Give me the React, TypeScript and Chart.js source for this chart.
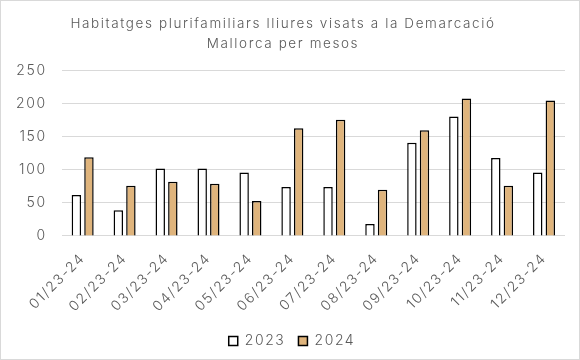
import React, { useEffect, useRef } from "react";
import { Chart, registerables } from "chart.js";

Chart.register(...registerables);

const categories = ["01/23-24", "02/23-24", "03/23-24", "04/23-24", "05/23-24", "06/23-24", "07/23-24", "08/23-24", "09/23-24", "10/23-24", "11/23-24", "12/23-24"];
const values2023 = [62, 39, 102, 102, 96, 74, 74, 18, 141, 181, 118, 96];
const values2024 = [119, 76, 82, 79, 53, 163, 176, 70, 160, 208, 76, 205];
const titleLines = ["Habitatges plurifamiliars lliures visats a la Demarcació", "Mallorca per mesos"];

const FONT = "Inter, sans-serif";
const GREY = "#595959";

const spacingPlugin = {
  id: "letterSpacing",
  beforeUpdate(chart: any) { (chart.ctx as any).letterSpacing = "1.6px"; },
  afterLayout(chart: any) {
    if (chart.legend) { chart.legend.left += 9; chart.legend.right += 9; }
  },
  beforeDraw(chart: any) { (chart.ctx as any).letterSpacing = "1.6px"; },
};

export default function App() {
  const ref = useRef<HTMLCanvasElement | null>(null);
  useEffect(() => {
    document.body.style.margin = "0";
    const chart = new Chart(ref.current as HTMLCanvasElement, {
      type: "bar",
      data: {
        labels: categories,
        datasets: [
          { label: "2023", data: values2023, backgroundColor: "#ffffff", borderColor: "#000000", borderWidth: 1.5, categoryPercentage: 0.6, barPercentage: 0.75 },
          { label: "2024", data: values2024, backgroundColor: "#DFB47C", borderColor: "#000000", borderWidth: 1.5, categoryPercentage: 0.6, barPercentage: 0.75 },
        ],
      },
      plugins: [spacingPlugin],
      options: {
        animation: false,
        responsive: false,
        layout: { padding: { left: 0, right: 14, top: 6, bottom: 1 } },
        plugins: {
          title: { display: true, text: titleLines, color: GREY, font: { family: FONT, size: 13.5, weight: 300, lineHeight: 1.55 }, padding: { top: 6, bottom: 16 }, },
          legend: {
            position: "bottom",
            labels: { color: GREY, font: { family: FONT, size: 14, weight: 300 }, boxWidth: 9, boxHeight: 9, padding: 13 },
          },
          tooltip: { enabled: false },
        },
        scales: {
          x: {
            grid: { display: false },
            border: { display: false },
            ticks: { color: GREY, font: { family: FONT, size: 14, weight: 300 }, minRotation: 45, maxRotation: 45, padding: 6 },
          },
          y: {
            min: 0,
            max: 250,
            grid: { color: "#d9d9d9", lineWidth: 1, drawTicks: false },
            border: { display: false },
            ticks: { stepSize: 50, color: GREY, font: { family: FONT, size: 14, weight: 300 }, padding: 15 },
          },
        },
      },
    });
    return () => chart.destroy();
  }, []);
  return (
    <div style={{ position: "absolute", left: 0, top: 0, width: 580, height: 360, border: "1px solid #d9d9d9", boxSizing: "border-box", background: "#fff" }}>
      <canvas ref={ref} width={578} height={358} />
    </div>
  );
}
